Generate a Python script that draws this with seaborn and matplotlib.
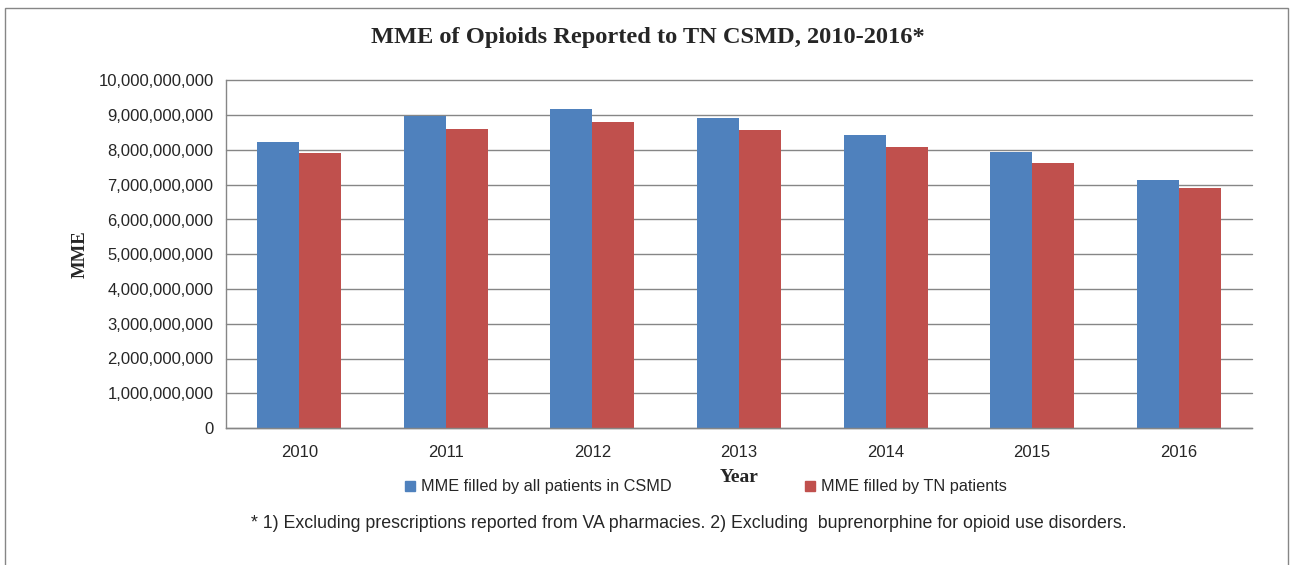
import numpy as np
import pandas as pd
import matplotlib
matplotlib.use("Agg")
import matplotlib.pyplot as plt
import matplotlib.patches as mpatches
from matplotlib.ticker import FuncFormatter, FixedLocator
import seaborn as sns

# Data
years = ["2010", "2011", "2012", "2013", "2014", "2015", "2016"]
mme_all = [8.22e9, 8.99e9, 9.17e9, 8.91e9, 8.43e9, 7.93e9, 7.14e9]
mme_tn = [7.91e9, 8.60e9, 8.81e9, 8.57e9, 8.08e9, 7.62e9, 6.90e9]
series_names = ["MME filled by all patients in CSMD", "MME filled by TN patients"]
colors = ["#4F81BD", "#C0504D"]

df = pd.DataFrame({
    "Year": years * 2,
    "MME": mme_all + mme_tn,
    "Series": [series_names[0]] * len(years) + [series_names[1]] * len(years),
})

sns.set_style("white")
plt.rcParams["font.family"] = ["Liberation Sans", "DejaVu Sans"]

W, H = 1290, 565
fig = plt.figure(figsize=(W / 100, H / 100), dpi=100)
ax = fig.add_axes([226 / W, 1 - 428 / H, (1252 - 226) / W, (428 - 80.5) / H])

sns.barplot(data=df, x="Year", y="MME", hue="Series", palette=colors,
            width=0.573, gap=0, saturation=1, ax=ax, legend=False,
            edgecolor="none")

grid_c = "#868686"
ax.set_ylim(0, 10e9)
ax.set_xlim(-0.5, 6.5)
ax.yaxis.set_major_locator(FixedLocator(np.arange(0, 10.01e9, 1e9)))
ax.yaxis.set_major_formatter(FuncFormatter(lambda v, p: f"{int(round(v)):,}"))
ax.grid(axis="y", color=grid_c, lw=1)
for gl in ax.get_ygridlines():
    gl.set_clip_on(False)
ax.set_axisbelow(True)

for s in ["top", "right"]:
    ax.spines[s].set_visible(False)
for s in ["left", "bottom"]:
    ax.spines[s].set_color(grid_c)
    ax.spines[s].set_linewidth(1)

ax.tick_params(axis="y", length=5, color=grid_c, labelsize=12, pad=4)
ax.tick_params(axis="x", which="major", length=0, labelsize=12, pad=12)
ax.set_xticks(np.arange(-0.5, 7, 1), minor=True)
ax.tick_params(axis="x", which="minor", length=5, color=grid_c)

ax.set_xlabel("")
ax.set_ylabel("MME", family="Liberation Serif", fontweight="bold", fontsize=13.5)
ax.yaxis.set_label_coords((89 - 226) / 1026, 0.5)

fig.text(739 / W, 1 - 478 / H, "Year", ha="center", va="center",
         family="Liberation Serif", fontweight="bold", fontsize=14)
fig.text(648 / W, 1 - 37 / H, "MME of Opioids Reported to TN CSMD, 2010-2016*",
         ha="center", va="center", family="Liberation Serif", fontweight="bold", fontsize=17.6)
fig.text(689 / W, 1 - 523 / H,
         "* 1) Excluding prescriptions reported from VA pharmacies. 2) Excluding  buprenorphine for opioid use disorders.",
         ha="center", va="center", fontsize=12.8)

handles = [mpatches.Patch(color=c) for c in colors]
fig.legend(handles, series_names, loc="center", bbox_to_anchor=(706 / W, 1 - 487 / H),
           ncol=2, frameon=False, fontsize=11.7, handlelength=0.6, handleheight=0.6,
           handletextpad=0.4, columnspacing=8.2)

fig.patches.append(mpatches.Rectangle((5 / W, -0.02), (1288 - 5) / W, 1.02 - 8 / H,
                                      transform=fig.transFigure, fill=False,
                                      edgecolor=grid_c, lw=1))

fig.savefig("out.png", dpi=100)
